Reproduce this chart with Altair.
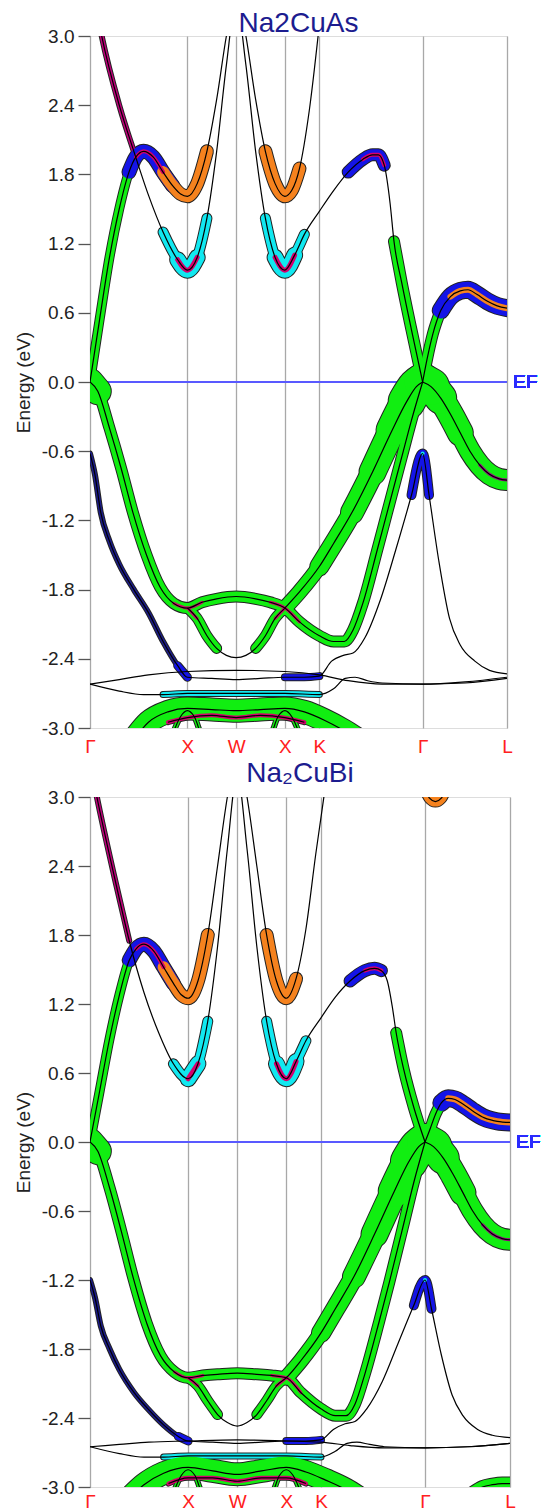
import altair as alt
import pandas as pd

FONT = "Liberation Sans"

# ---------------- axes / labels ----------------
SYM_K = [0.0, 1.0, 1.5, 2.0, 2.354, 3.414, 4.280]
SYM_LABELS = ["Γ", "X", "W", "X", "K", "Γ", "L"]
Y_TICKS = [-3.0, -2.7, -2.4, -2.1, -1.8, -1.5, -1.2, -0.9, -0.6, -0.3, 0.0,
           0.3, 0.6, 0.9, 1.2, 1.5, 1.8, 2.1, 2.4, 2.7, 3.0]
TITLES = ["Na2CuAs", "Na₂CuBi"]

# ---------------- Na2CuAs bands (k, E) ----------------
AS_UP1_K = [0.00, 0.12, 0.30, 0.45, 0.60, 0.75, 0.90, 1.00, 1.10, 1.20, 1.30, 1.40, 1.50,
            1.60, 1.70, 1.80, 1.90, 2.00, 2.10, 2.20, 2.354, 2.50, 2.65, 2.80, 2.90, 2.96,
            3.02, 3.08, 3.12, 3.20, 3.30, 3.414]
AS_UP1_E = [3.55, 3.00, 2.40, 2.00, 1.62, 1.30, 1.06, 0.97, 1.08, 1.42, 2.00, 2.75, 3.30,
            2.75, 2.00, 1.42, 1.08, 0.97, 1.10, 1.28, 1.48, 1.66, 1.82, 1.93, 1.97, 1.97,
            1.88, 1.55, 1.22, 0.86, 0.45, 0.00]
AS_UP2_K = [0.00, 0.10, 0.20, 0.30, 0.40, 0.47, 0.55, 0.65, 0.75, 0.85, 0.93, 1.00, 1.10,
            1.20, 1.30, 1.40, 1.50, 1.60, 1.70, 1.80, 1.90, 2.00, 2.07, 2.15, 2.25, 2.354]
AS_UP2_E = [0.00, 0.55, 1.08, 1.50, 1.82, 1.95, 2.00, 1.95, 1.82, 1.70, 1.63, 1.61, 1.72,
            2.00, 2.45, 3.00, 3.40, 3.00, 2.45, 2.00, 1.72, 1.61, 1.66, 1.85, 2.35, 3.10]
AS_V1_K = [0.00, 0.08, 0.20, 0.32, 0.44, 0.58, 0.72, 0.86, 1.00, 1.15, 1.30, 1.50, 1.70,
           1.85, 2.00, 2.15, 2.354, 2.50, 2.61, 2.70, 2.80, 2.95, 3.05, 3.20, 3.30, 3.414]
AS_V1_E = [0.00, -0.08, -0.40, -0.75, -1.13, -1.50, -1.78, -1.92, -1.96, -1.91, -1.88,
           -1.86, -1.88, -1.91, -1.96, -2.08, -2.20, -2.25, -2.25, -2.15, -1.92, -1.45,
           -1.13, -0.65, -0.33, 0.00]
AS_V2_K = [1.00, 1.10, 1.20, 1.30, 1.40, 1.50, 1.60, 1.70, 1.80, 1.90, 2.00, 2.15, 2.354,
           2.50, 2.69, 2.90, 3.10, 3.25, 3.35, 3.414]
AS_V2_E = [-1.96, -2.05, -2.20, -2.31, -2.37, -2.39, -2.37, -2.31, -2.20, -2.05, -1.96,
           -1.82, -1.60, -1.40, -1.13, -0.78, -0.42, -0.17, -0.04, 0.00]
AS_R1_K = [3.414, 3.46, 3.52, 3.60, 3.70, 3.80, 3.88, 3.97, 4.08, 4.18, 4.28]
AS_R1_E = [0.00, 0.20, 0.42, 0.62, 0.74, 0.79, 0.80, 0.76, 0.70, 0.66, 0.64]
AS_R2_K = [3.414, 3.50, 3.60, 3.70, 3.80, 3.90, 4.00, 4.10, 4.20, 4.28]
AS_R2_E = [0.00, -0.04, -0.14, -0.28, -0.44, -0.60, -0.72, -0.80, -0.84, -0.85]
AS_B1_K = [0.00, 0.05, 0.11, 0.20, 0.30, 0.45, 0.60, 0.75, 0.90, 1.00, 1.25, 1.50, 1.75,
           2.00, 2.20, 2.354, 2.48, 2.60, 2.70, 2.82, 2.98, 3.14, 3.30, 3.414, 3.48, 3.58,
           3.69, 3.80, 3.95, 4.10, 4.28]
AS_B1_E = [-0.62, -0.80, -1.13, -1.38, -1.58, -1.80, -2.00, -2.25, -2.46, -2.56, -2.57,
           -2.58, -2.57, -2.56, -2.56, -2.55, -2.42, -2.37, -2.35, -2.22, -1.89, -1.45,
           -0.98, -0.62, -0.98, -1.55, -2.05, -2.28, -2.42, -2.50, -2.53]
AS_L1_K = [0.00, 0.30, 0.60, 1.00, 1.50, 2.00, 2.354, 2.65, 3.00, 3.414, 3.85, 4.28]
AS_L1_E = [-2.62, -2.58, -2.54, -2.51, -2.50, -2.51, -2.54, -2.59, -2.62, -2.62, -2.61, -2.57]
AS_L2_K = [0.00, 0.30, 0.55, 0.75, 1.00, 1.50, 2.00, 2.354, 2.50, 2.62, 2.72, 2.85, 3.00,
           3.414, 3.85, 4.28]
AS_L2_E = [-2.62, -2.68, -2.71, -2.71, -2.70, -2.70, -2.70, -2.71, -2.66, -2.57, -2.56,
           -2.59, -2.61, -2.62, -2.60, -2.56]
AS_D1_K = [0.45, 0.60, 0.80, 1.00, 1.25, 1.50, 1.75, 2.00, 2.20, 2.40, 2.60, 2.75]
AS_D1_E = [-3.10, -2.95, -2.86, -2.83, -2.84, -2.85, -2.84, -2.83, -2.86, -2.93, -3.02, -3.10]
AS_D2_K = [0.85, 0.93, 1.00, 1.07, 1.15, 1.85, 1.93, 2.00, 2.07, 2.15]
AS_D2_E = [-3.05, -2.90, -2.85, -2.90, -3.05, -3.05, -2.90, -2.85, -2.90, -3.05]
AS_D3_K = [0.80, 1.00, 1.25, 1.50, 1.75, 2.00, 2.20]
AS_D3_E = [-2.95, -2.91, -2.89, -2.91, -2.89, -2.91, -2.95]

# ---------------- Na2CuBi bands (k, E) ----------------
BI_UP1_K = [0.00, 0.07, 0.25, 0.40, 0.55, 0.70, 0.85, 1.00, 1.10, 1.20, 1.30, 1.40, 1.50,
            1.60, 1.70, 1.80, 1.90, 2.00, 2.10, 2.20, 2.354, 2.50, 2.65, 2.80, 2.90, 2.97,
            3.03, 3.08, 3.12, 3.20, 3.30, 3.414]
BI_UP1_E = [3.30, 3.00, 2.30, 1.75, 1.30, 0.95, 0.68, 0.55, 0.68, 1.05, 1.70, 2.55, 3.20,
            2.55, 1.70, 1.05, 0.68, 0.55, 0.70, 0.88, 1.08, 1.26, 1.40, 1.49, 1.51, 1.49,
            1.40, 1.18, 0.95, 0.62, 0.30, 0.00]
BI_UP2_K = [0.00, 0.10, 0.20, 0.30, 0.40, 0.47, 0.55, 0.65, 0.75, 0.85, 0.93, 1.00, 1.10,
            1.20, 1.30, 1.40, 1.50, 1.60, 1.70, 1.80, 1.90, 2.00, 2.10, 2.20, 2.30, 2.40]
BI_UP2_E = [0.00, 0.45, 0.90, 1.28, 1.58, 1.68, 1.72, 1.66, 1.52, 1.38, 1.28, 1.25, 1.40,
            1.80, 2.40, 3.00, 3.40, 3.00, 2.40, 1.80, 1.40, 1.25, 1.42, 1.85, 2.50, 3.10]
BI_V1_K = [0.00, 0.08, 0.20, 0.32, 0.44, 0.58, 0.72, 0.86, 1.00, 1.15, 1.30, 1.50, 1.70,
           1.85, 2.00, 2.15, 2.354, 2.50, 2.61, 2.70, 2.80, 2.95, 3.05, 3.20, 3.30, 3.414]
BI_V1_E = [0.00, -0.08, -0.40, -0.78, -1.18, -1.58, -1.86, -2.00, -2.05, -2.03, -2.02,
           -2.01, -2.02, -2.03, -2.05, -2.18, -2.32, -2.38, -2.38, -2.28, -2.02, -1.55,
           -1.22, -0.70, -0.35, 0.00]
BI_V2_K = [1.00, 1.10, 1.20, 1.30, 1.40, 1.50, 1.60, 1.70, 1.80, 1.90, 2.00, 2.15, 2.354,
           2.50, 2.69, 2.90, 3.10, 3.25, 3.35, 3.414]
BI_V2_E = [-2.05, -2.12, -2.25, -2.37, -2.44, -2.47, -2.44, -2.37, -2.25, -2.12, -2.05,
           -1.90, -1.66, -1.45, -1.17, -0.80, -0.43, -0.17, -0.04, 0.00]
BI_R1_K = [3.414, 3.46, 3.52, 3.58, 3.65, 3.72, 3.80, 3.90, 4.02, 4.15, 4.28]
BI_R1_E = [0.00, 0.10, 0.24, 0.34, 0.38, 0.37, 0.33, 0.27, 0.21, 0.18, 0.17]
BI_R2_K = [3.414, 3.50, 3.60, 3.70, 3.80, 3.90, 4.00, 4.10, 4.20, 4.28]
BI_R2_E = [0.00, -0.04, -0.14, -0.28, -0.44, -0.60, -0.72, -0.80, -0.84, -0.85]
BI_B1_K = [0.00, 0.05, 0.11, 0.20, 0.30, 0.45, 0.60, 0.75, 0.90, 1.00, 1.25, 1.50, 1.75,
           2.00, 2.20, 2.354, 2.48, 2.60, 2.70, 2.82, 2.98, 3.14, 3.30, 3.414, 3.48, 3.58,
           3.69, 3.80, 3.95, 4.10, 4.28]
BI_B1_E = [-1.20, -1.35, -1.60, -1.80, -1.98, -2.18, -2.33, -2.46, -2.56, -2.60, -2.61,
           -2.62, -2.61, -2.60, -2.60, -2.59, -2.50, -2.45, -2.43, -2.32, -2.08, -1.75,
           -1.42, -1.20, -1.45, -1.85, -2.20, -2.38, -2.50, -2.55, -2.57]
BI_L1_K = [0.00, 0.30, 0.60, 1.00, 1.50, 2.00, 2.354, 2.65, 3.00, 3.414, 3.85, 4.28]
BI_L1_E = [-2.65, -2.63, -2.61, -2.60, -2.59, -2.60, -2.61, -2.64, -2.66, -2.66, -2.65, -2.62]
BI_L2_K = [0.00, 0.30, 0.55, 0.75, 1.00, 1.50, 2.00, 2.354, 2.50, 2.62, 2.72, 2.85, 3.00,
           3.414, 3.85, 4.28]
BI_L2_E = [-2.65, -2.71, -2.74, -2.74, -2.73, -2.73, -2.73, -2.74, -2.69, -2.62, -2.61,
           -2.63, -2.65, -2.66, -2.65, -2.62]
BI_D1_K = [0.40, 0.55, 0.75, 1.00, 1.25, 1.50, 1.75, 2.00, 2.20, 2.40, 2.60, 2.75]
BI_D1_E = [-3.10, -2.98, -2.88, -2.83, -2.86, -2.89, -2.86, -2.83, -2.87, -2.94, -3.02, -3.10]
BI_D2_K = [0.85, 0.93, 1.00, 1.07, 1.15, 1.85, 1.93, 2.00, 2.07, 2.15]
BI_D2_E = [-3.05, -2.90, -2.85, -2.90, -3.05, -3.05, -2.90, -2.85, -2.90, -3.05]
BI_D3_K = [0.80, 1.00, 1.25, 1.50, 1.75, 2.00, 2.20]
BI_D3_E = [-2.97, -2.92, -2.92, -2.95, -2.92, -2.92, -2.97]
BI_T1_K = [3.40, 3.46, 3.52, 3.58, 3.64]
BI_T1_E = [3.10, 2.99, 2.96, 2.99, 3.10]
BI_LB_K = [3.90, 4.00, 4.10, 4.20, 4.28]
BI_LB_E = [-3.05, -3.00, -2.98, -2.97, -2.97]

AS_BANDS = {"up1": (AS_UP1_K, AS_UP1_E), "up2": (AS_UP2_K, AS_UP2_E),
            "v1": (AS_V1_K, AS_V1_E), "v2": (AS_V2_K, AS_V2_E),
            "r1": (AS_R1_K, AS_R1_E), "r2": (AS_R2_K, AS_R2_E),
            "b1": (AS_B1_K, AS_B1_E), "l1": (AS_L1_K, AS_L1_E),
            "l2": (AS_L2_K, AS_L2_E), "d1": (AS_D1_K, AS_D1_E),
            "d2": (AS_D2_K, AS_D2_E), "d3": (AS_D3_K, AS_D3_E)}
BI_BANDS = {"up1": (BI_UP1_K, BI_UP1_E), "up2": (BI_UP2_K, BI_UP2_E),
            "v1": (BI_V1_K, BI_V1_E), "v2": (BI_V2_K, BI_V2_E),
            "r1": (BI_R1_K, BI_R1_E), "r2": (BI_R2_K, BI_R2_E),
            "b1": (BI_B1_K, BI_B1_E), "l1": (BI_L1_K, BI_L1_E),
            "l2": (BI_L2_K, BI_L2_E), "d1": (BI_D1_K, BI_D1_E),
            "d2": (BI_D2_K, BI_D2_E), "d3": (BI_D3_K, BI_D3_E),
            "t1": (BI_T1_K, BI_T1_E), "lb": (BI_LB_K, BI_LB_E)}

# ---------------- fat-band styling (band, k range, colour, px width, tier) ----------------
GREEN, CYAN, ORANGE, BLUE, PINK, NAVY = "#11ee11", "#11e8f0", "#f5821e", "#1414e6", "#d4006e", "#1c1c8c"
COMMON_FAT = [
    ("up1", 0.00, 0.45, "#c0007a", 4, 1),
    ("up1", 0.75, 1.20, CYAN, 9, 1), ("up1", 0.86, 1.14, CYAN, 15, 1),
    ("up1", 0.90, 1.10, PINK, 5, 2),
    ("up1", 1.80, 2.25, CYAN, 9, 1), ("up1", 1.86, 2.14, CYAN, 15, 1),
    ("up1", 1.90, 2.10, PINK, 5, 2),
    ("up1", 2.65, 3.02, BLUE, 11, 1), ("up1", 2.80, 3.02, PINK, 4, 2),
    ("up1", 3.12, 3.414, GREEN, 10, 1),
    ("up2", 0.00, 0.47, GREEN, 8, 1), ("up2", 0.40, 0.85, BLUE, 13, 1),
    ("up2", 0.47, 0.75, PINK, 4, 2),
    ("up2", 0.75, 1.20, ORANGE, 12, 1), ("up2", 1.80, 2.15, ORANGE, 12, 1),
    ("v1", 0.00, 3.414, GREEN, 10, 1), ("v1", 0.00, 0.08, GREEN, 26, 1),
    ("v1", 0.86, 1.15, PINK, 3, 2), ("v1", 1.85, 2.15, PINK, 3, 2),
    ("v2", 1.00, 1.30, GREEN, 9, 1), ("v2", 1.70, 2.00, GREEN, 9, 1),
    ("v2", 1.00, 1.10, PINK, 3, 2), ("v2", 1.90, 2.00, PINK, 3, 2),
    ("v2", 2.00, 3.414, GREEN, 14, 1), ("v2", 2.354, 3.414, GREEN, 18, 1),
    ("v2", 2.69, 3.414, GREEN, 22, 1), ("v2", 2.90, 3.414, GREEN, 26, 1),
    ("v2", 3.10, 3.414, GREEN, 31, 1), ("v2", 3.25, 3.414, GREEN, 36, 1),
    ("r1", 3.414, 3.60, GREEN, 10, 1), ("r1", 3.55, 4.28, BLUE, 16, 1),
    ("r1", 3.62, 4.28, ORANGE, 6, 2),
    ("r2", 3.414, 4.28, GREEN, 20, 1), ("r2", 3.414, 3.80, GREEN, 25, 1),
    ("r2", 3.414, 3.60, GREEN, 31, 1), ("r2", 3.414, 3.50, GREEN, 36, 1),
    ("r2", 3.95, 4.28, "#a0008a", 3, 2),
    ("b1", 0.00, 1.00, NAVY, 4, 1), ("b1", 0.88, 1.15, BLUE, 7, 1),
    ("b1", 1.85, 2.354, BLUE, 6, 1), ("b1", 3.30, 3.48, BLUE, 8, 1),
    ("b1", 3.36, 3.46, CYAN, 4, 2),
    ("l2", 0.70, 2.354, CYAN, 5, 1),
    ("d1", 0.40, 2.75, GREEN, 22, 1), ("d3", 0.80, 2.20, PINK, 4, 2),
    ("d2", 0.85, 2.15, GREEN, 4, 1),
]
BI_EXTRA_FAT = [("t1", 3.40, 3.64, ORANGE, 10, 1), ("lb", 3.90, 4.28, GREEN, 12, 1)]


def build(bands, fat):
    lines, fats = [], []
    for name, (ks, es) in bands.items():
        for k, e in zip(ks, es):
            lines.append({"band": name, "k": k, "E": e})
    for i, (name, k0, k1, col, w, tier) in enumerate(fat):
        ks, es = bands[name]
        for k, e in zip(ks, es):
            if k0 - 1e-9 <= k <= k1 + 1e-9:
                fats.append({"seg": f"s{i:02d}", "k": k, "E": e, "col": col,
                             "w": w, "wo": w + 2, "tier": tier})
    return pd.DataFrame(lines), pd.DataFrame(fats)


label_expr = " : ".join(
    f"abs(datum.value - {k}) < 0.01 ? '{lab}'" for k, lab in zip(SYM_K, SYM_LABELS)
) + " : ''"

XS = alt.Scale(domain=[0, 4.28], nice=False, zero=False)
YS = alt.Scale(domain=[-3, 3], nice=False, zero=False)


def panel(bands, fat, title, w, h, xpad, toff):
    ldf, fdf = build(bands, fat)
    xq = alt.X("k:Q", scale=XS)
    yq = alt.Y("E:Q", scale=YS)
    carrier = alt.Chart(ldf).mark_line(opacity=0, clip=True).encode(
        x=alt.X("k:Q", scale=XS, axis=alt.Axis(
            values=SYM_K, labelExpr=label_expr, grid=True, gridColor="#a8a8a8",
            gridWidth=1.3, ticks=False, domain=False, labelColor="#ff2020",
            labelFont=FONT, labelFontSize=19, labelPadding=xpad, title=None,
            labelFlush=False)),
        y=alt.Y("E:Q", scale=YS, axis=alt.Axis(
            values=Y_TICKS,
            labelExpr="round(datum.value*10) % 6 == 0 ? (datum.value < -0.01 ? '-' : '') + format(abs(datum.value), '.1f') : ''",
            tickSize={"condition": {"test": "round(datum.value*10) % 6 == 0", "value": 12}, "value": 9},
            tickColor="#555555", tickWidth=1.3, grid=False, domain=False,
            labelFont=FONT, labelFontSize=19, labelColor="#222222", labelPadding=4,
            title="Energy (eV)", titleFont=FONT, titleFontSize=19, titleFontWeight="normal",
            titleColor="#222222", titlePadding=8)),
        detail="band:N")
    outline = alt.Chart(fdf).mark_line(interpolate="monotone", clip=True, strokeCap="round",
                                       color="#222222").encode(
        x=xq, y=yq, detail="seg:N", strokeWidth=alt.StrokeWidth("wo:Q", scale=None))
    fill1 = alt.Chart(fdf).transform_filter("datum.tier == 1").mark_line(
        interpolate="monotone", clip=True, strokeCap="round").encode(
        x=xq, y=yq, detail="seg:N", color=alt.Color("col:N", scale=None),
        strokeWidth=alt.StrokeWidth("w:Q", scale=None))
    fill2 = alt.Chart(fdf).transform_filter("datum.tier == 2").mark_line(
        interpolate="monotone", clip=True, strokeCap="round").encode(
        x=xq, y=yq, detail="seg:N", color=alt.Color("col:N", scale=None),
        strokeWidth=alt.StrokeWidth("w:Q", scale=None))
    ef = alt.Chart(ldf).mark_rule(color="#5a5aff", strokeWidth=1.5).encode(
        y=alt.Y(datum=0, scale=YS))
    eft = alt.Chart(ldf).mark_text(text="EF", color="#2a2aff", font=FONT, fontSize=19,
                                   align="left", baseline="middle", dx=6).encode(
        x=alt.X(datum=4.28, scale=XS), y=alt.Y(datum=0, scale=YS))
    center = alt.Chart(ldf).mark_line(interpolate="monotone", clip=True, color="#000000",
                                      strokeWidth=1.2).encode(x=xq, y=yq, detail="band:N")
    return alt.layer(carrier, ef, outline, fill1, fill2, center, eft).properties(
        width=w, height=h,
        title=alt.TitleParams(title, font=FONT, fontSize=28, color="#1c1c8f",
                              fontWeight="normal", offset=toff))


top = panel(AS_BANDS, COMMON_FAT, TITLES[0], 417, 692, 9, -11)
bot = panel(BI_BANDS, COMMON_FAT + BI_EXTRA_FAT, TITLES[1], 420, 690, 5, 0)
chart = alt.vconcat(top, bot, spacing=2).properties(
    padding={"left": 5, "top": 1, "right": 0, "bottom": 0}
).configure_view(stroke="#555555", strokeWidth=1.5).configure(background="white")
chart.save("out.html", embed_options={"renderer": "svg", "actions": False})
